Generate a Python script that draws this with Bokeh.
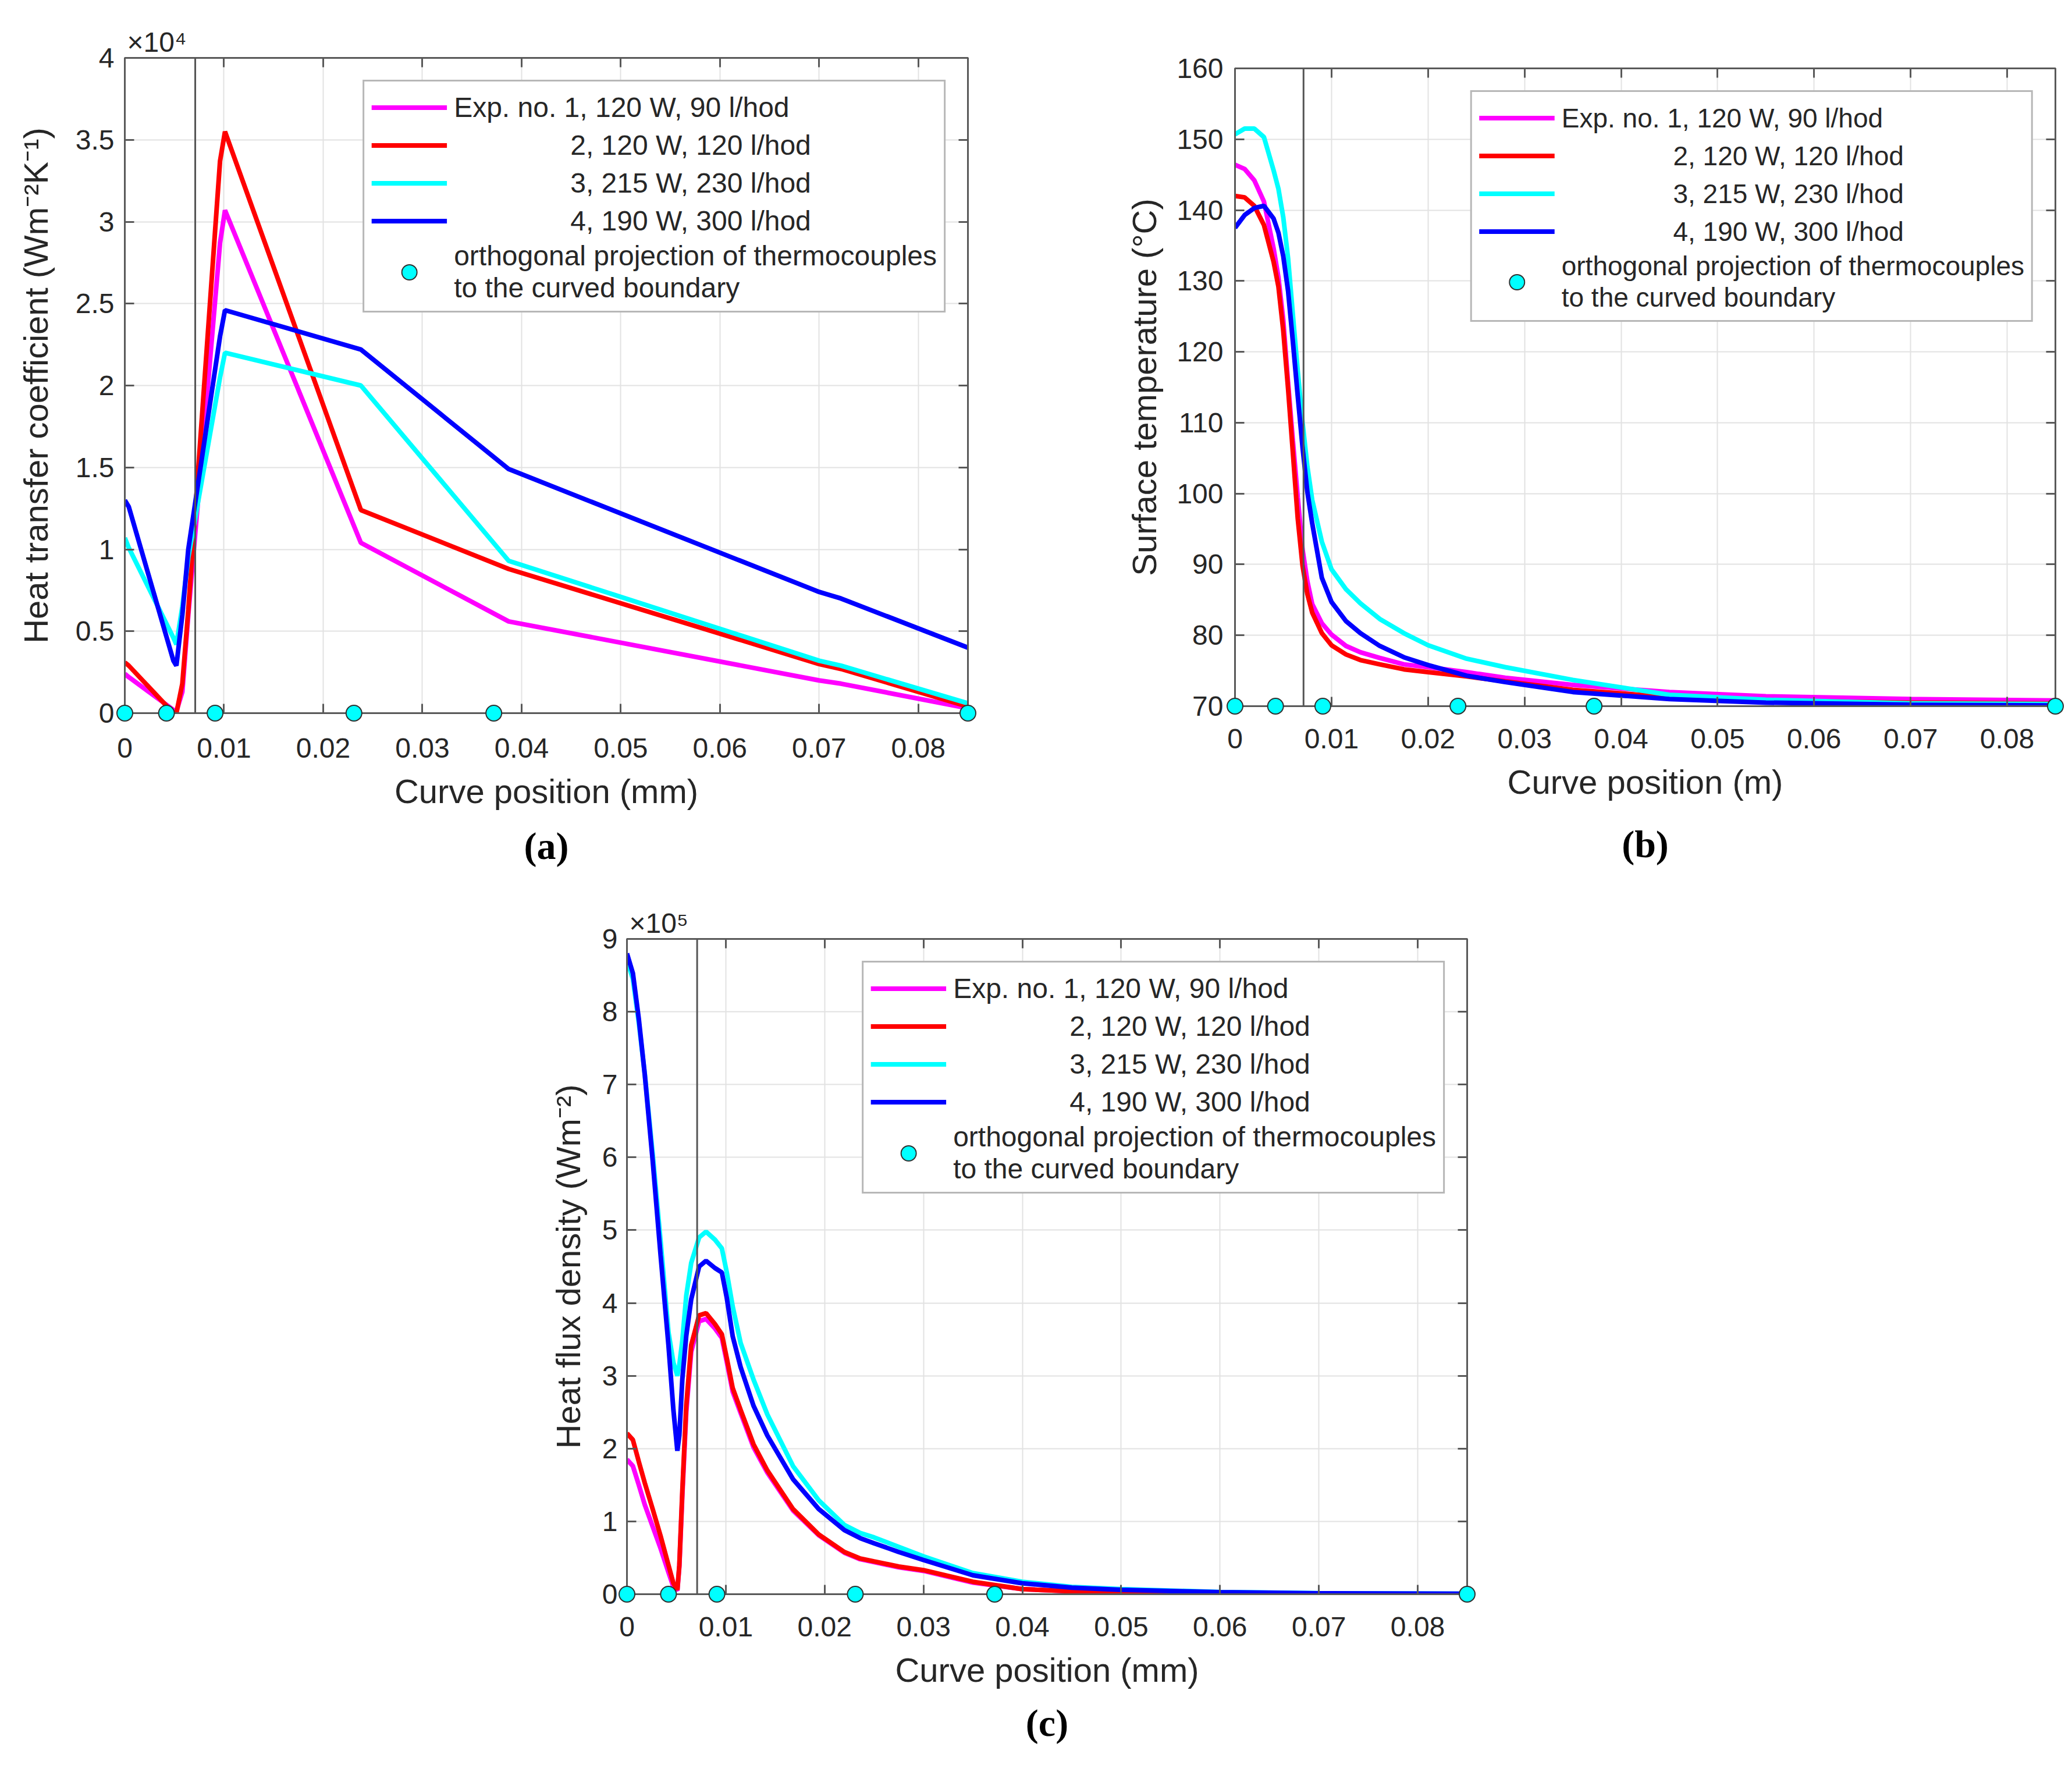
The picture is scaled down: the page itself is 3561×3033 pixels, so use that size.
from bokeh.plotting import figure
from bokeh.layouts import column, row
from bokeh.models import (Legend, LegendItem, Span, Title, LinearAxis, Range1d,
                          CustomJSTickFormatter, FixedTicker, Spacer)
from bokeh.embed import file_html
from bokeh.resources import INLINE

FONT = "Liberation Sans"
SERIF = "Liberation Serif"
TXT = "#262626"
AXC = "#595959"

# ---- data ----------------------------------------------------------------
nb = "\u00a0" * 15
series_labels = ["Exp. no. 1, 120 W, 90 l/hod",
                 nb + "2, 120 W, 120 l/hod",
                 nb + "3, 215 W, 230 l/hod",
                 nb + "4, 190 W, 300 l/hod"]
tc_label = "orthogonal projection of thermocouples\nto the curved boundary"
colors = ["#ff00ff", "#ff0000", "#00ffff", "#0000ff"]

# thermocouple projections and the boundary line (curve position)
tc_x = [0, 0.0042, 0.0091, 0.0231, 0.0372, 0.085]
boundary_x = 0.0071
x_ticks = [0, 0.01, 0.02, 0.03, 0.04, 0.05, 0.06, 0.07, 0.08]

# (a) heat transfer coefficient, W m^-2 K^-1
xa = [0, 0.0004, 0.0049, 0.0052, 0.0058, 0.0064, 0.0096, 0.0101, 0.0238, 0.0387, 0.0700, 0.0722, 0.0850]
htc_1 = [2400, 2200, 200, 100, 1300, 6000, 28700, 30700, 10400, 5600, 2000, 1800, 300]
htc_2 = [3100, 2900, 0, 0, 1800, 6300, 33700, 35500, 12400, 8800, 3000, 2700, 400]
htc_3 = [10700, 10100, 4600, 4200, 6500, 9500, 20500, 22000, 20000, 9300, 3200, 2900, 600]
htc_4 = [13000, 12600, 3200, 2900, 6000, 10000, 23000, 24600, 22200, 14900, 7400, 7000, 4000]
htc_ticks = [0, 5000, 10000, 15000, 20000, 25000, 30000, 35000, 40000]

# (b) surface temperature, deg C
xb = [0, 0.001, 0.002, 0.003, 0.004, 0.0045, 0.005, 0.0055, 0.006, 0.0065, 0.007, 0.0075, 0.008,
      0.009, 0.01, 0.0115, 0.013, 0.015, 0.0175, 0.02, 0.024, 0.028, 0.035, 0.045, 0.055, 0.07, 0.085]
temp_1 = [146.4, 145.8, 144.2, 141.2, 134.6, 130.5, 124.5, 115.6, 107.4, 99.5, 92.1, 87.6, 84.4,
          81.7, 80.1, 78.5, 77.6, 76.8, 75.9, 75.5, 74.8, 74.0, 73.0, 72.0, 71.4, 71.0, 70.8]
temp_2 = [142.0, 141.8, 140.6, 137.9, 132.7, 129.2, 123.0, 114.8, 105.7, 96.5, 89.8, 85.8, 83.2,
          80.3, 78.6, 77.3, 76.5, 75.9, 75.2, 74.8, 74.2, 73.5, 72.3, 71.3, 70.8, 70.5, 70.4]
temp_3 = [150.7, 151.5, 151.5, 150.3, 145.6, 143.0, 139.0, 133.2, 125.2, 117.3, 110.0, 103.8, 99.1,
          93.2, 89.3, 86.5, 84.5, 82.3, 80.3, 78.6, 76.7, 75.5, 73.7, 71.6, 70.9, 70.4, 70.3]
temp_4 = [137.5, 139.3, 140.3, 140.6, 138.8, 136.8, 133.5, 128.6, 121.4, 113.8, 106.5, 100.2, 95.8,
          88.1, 84.7, 82.0, 80.3, 78.5, 76.9, 75.8, 74.3, 73.4, 72.0, 71.0, 70.5, 70.2, 70.1]
temp_ticks = [70, 80, 90, 100, 110, 120, 130, 140, 150, 160]

# (c) heat flux density, W m^-2
xc = [0, 0.0006, 0.0012, 0.0018, 0.0026, 0.0034, 0.0042, 0.0047, 0.0051, 0.0053, 0.0056, 0.006,
      0.0065, 0.0073, 0.008, 0.0089, 0.0096, 0.0101, 0.0107, 0.0115, 0.0128, 0.0142, 0.0168, 0.0194,
      0.022, 0.0236, 0.025, 0.0275, 0.03, 0.035, 0.04, 0.045, 0.05, 0.06, 0.07, 0.085]
flux_1 = [1.85e5, 1.76e5, 1.50e5, 1.23e5, 0.93e5, 0.63e5, 0.30e5, 0.10e5, 0.05e5, 0.38e5, 1.35e5, 2.50e5,
          3.33e5, 3.75e5, 3.78e5, 3.65e5, 3.52e5, 3.19e5, 2.78e5, 2.49e5, 2.02e5, 1.67e5, 1.15e5, 0.81e5,
          0.57e5, 0.48e5, 0.44e5, 0.37e5, 0.32e5, 0.16e5, 0.07e5, 0.04e5, 0.02e5, 0.008e5, 0.004e5, 0.002e5]
flux_2 = [2.21e5, 2.12e5, 1.82e5, 1.53e5, 1.17e5, 0.80e5, 0.40e5, 0.15e5, 0.06e5, 0.40e5, 1.41e5, 2.59e5,
          3.42e5, 3.83e5, 3.86e5, 3.71e5, 3.57e5, 3.24e5, 2.83e5, 2.53e5, 2.06e5, 1.70e5, 1.17e5, 0.82e5,
          0.58e5, 0.49e5, 0.45e5, 0.38e5, 0.33e5, 0.17e5, 0.07e5, 0.04e5, 0.02e5, 0.008e5, 0.004e5, 0.002e5]
flux_3 = [8.71e5, 8.45e5, 7.85e5, 7.15e5, 6.05e5, 4.85e5, 3.60e5, 3.18e5, 3.00e5, 3.15e5, 3.48e5, 4.10e5,
          4.55e5, 4.90e5, 4.98e5, 4.87e5, 4.75e5, 4.42e5, 3.95e5, 3.45e5, 2.95e5, 2.47e5, 1.76e5, 1.29e5,
          0.95e5, 0.84e5, 0.78e5, 0.65e5, 0.52e5, 0.29e5, 0.17e5, 0.10e5, 0.07e5, 0.03e5, 0.013e5, 0.005e5]
flux_4 = [8.80e5, 8.53e5, 7.90e5, 7.14e5, 5.96e5, 4.66e5, 3.42e5, 2.53e5, 1.97e5, 2.18e5, 2.95e5, 3.55e5,
          4.05e5, 4.50e5, 4.58e5, 4.48e5, 4.42e5, 4.07e5, 3.54e5, 3.12e5, 2.59e5, 2.18e5, 1.58e5, 1.17e5,
          0.88e5, 0.77e5, 0.70e5, 0.58e5, 0.47e5, 0.26e5, 0.15e5, 0.09e5, 0.06e5, 0.027e5, 0.012e5, 0.005e5]
flux_ticks = [0, 1e5, 2e5, 3e5, 4e5, 5e5, 6e5, 7e5, 8e5, 9e5]


def style_axis(ax, size="48px"):
    ax.axis_line_color = AXC
    ax.axis_line_width = 3
    ax.major_tick_line_color = AXC
    ax.major_tick_line_width = 3
    ax.major_tick_in = 16
    ax.major_tick_out = 0
    ax.minor_tick_line_color = None
    ax.major_label_text_font = FONT
    ax.major_label_text_font_size = size
    ax.major_label_text_color = TXT
    ax.axis_label_text_font = FONT
    ax.axis_label_text_font_size = "58px"
    ax.axis_label_text_font_style = "normal"
    ax.axis_label_text_color = TXT


def panel(xs, ys, ylo, yhi, yticks, ylab, xlab, ylab_fmt, exp_text, tag, tag_off, tag_std,
          fw, fh, bl, br, bt, bb, std_x, std_y, lstd_y, leg_size):
    p = figure(frame_width=fw, frame_height=fh, output_backend="svg", toolbar_location=None,
               x_range=Range1d(0, 0.085), y_range=Range1d(ylo, yhi),
               min_border_left=bl, min_border_right=br, min_border_top=bt, min_border_bottom=bb,
               title=exp_text)
    p.background_fill_color = "white"
    p.border_fill_color = "white"
    p.outline_line_color = AXC
    p.outline_line_width = 3
    p.title.text_font = FONT
    p.title.text_font_size = "48px"
    p.title.text_font_style = "normal"
    p.title.text_color = TXT
    p.title.align = "left"
    p.title.offset = 4
    p.title.standoff = 2

    p.xaxis.ticker = FixedTicker(ticks=x_ticks)
    p.xaxis.formatter = CustomJSTickFormatter(code="return tick === 0 ? '0' : tick.toFixed(2);")
    p.yaxis.ticker = FixedTicker(ticks=yticks)
    if ylab_fmt:
        p.yaxis.formatter = CustomJSTickFormatter(code=ylab_fmt)
    p.xaxis.axis_label = xlab
    p.yaxis.axis_label = ylab
    style_axis(p.xaxis[0])
    style_axis(p.yaxis[0])
    p.xaxis.major_label_standoff = std_x
    p.xaxis.axis_label_standoff = 22
    p.yaxis.major_label_standoff = std_y
    p.yaxis.axis_label_standoff = lstd_y

    # inward ticks on the top and right edges of the box
    top = LinearAxis(ticker=FixedTicker(ticks=x_ticks),
                     formatter=CustomJSTickFormatter(code="return '';"))
    right = LinearAxis(ticker=FixedTicker(ticks=yticks),
                       formatter=CustomJSTickFormatter(code="return '';"))
    for ax in (top, right):
        style_axis(ax, size="0px")
        ax.major_label_standoff = 0
    p.add_layout(top, "above")
    p.add_layout(right, "right")

    p.grid.grid_line_color = "#e2e2e2"
    p.grid.grid_line_width = 2
    p.xgrid.ticker = FixedTicker(ticks=x_ticks)
    p.ygrid.ticker = FixedTicker(ticks=yticks)

    p.add_layout(Span(location=boundary_x, dimension="height",
                      line_color="#555555", line_width=3))

    items = []
    for x, y, c, lab in zip(xs, ys, colors, series_labels):
        r = p.line(x, y, line_color=c, line_width=8)
        items.append(LegendItem(label=lab, renderers=[r]))
    m = p.scatter(tc_x, [ylo] * len(tc_x), marker="circle", size=27,
                  fill_color="#00ffff", line_color="#303030", line_width=2,
                  level="overlay")
    items.append(LegendItem(label=tc_label, renderers=[m]))

    leg = Legend(items=items, location="top_right", margin=38, padding=12,
                 spacing=0, glyph_width=130, glyph_height=65, label_height=65,
                 label_standoff=12, label_text_font=FONT, label_text_font_size=leg_size,
                 label_text_line_height=1.35,
                 label_text_color=TXT, border_line_color="#707070", border_line_width=3,
                 background_fill_color="white", background_fill_alpha=1.0)
    p.add_layout(leg)

    p.add_layout(Title(text=tag, align="center", offset=tag_off, standoff=tag_std,
                       text_font=SERIF, text_font_size="66px", text_font_style="bold",
                       text_color="black"), "below")
    return p


pa = panel([xa] * 4, [htc_1, htc_2, htc_3, htc_4], 0, 40000, htc_ticks,
           "Heat transfer coefficient (Wm\u207b\u00b2K\u207b\u00b9)", "Curve position (mm)",
           "return (tick / 1e4).toString();", "\u00d710\u2074", "(a)", -40, 40,
           1449, 1126, 214, 37, 99, 305, 43, 18, 33, "48px")

pb = panel([xb] * 4, [temp_1, temp_2, temp_3, temp_4], 70, 160, temp_ticks,
           "Surface temperature (\u00b0C)", "Curve position (m)",
           None, "", "(b)", -84, 66,
           1410, 1096, 422, 20, 99, 299, 39, 20, 20, "46px")

pc = panel([xc] * 4, [flux_1, flux_2, flux_3, flux_4], 0, 9e5, flux_ticks,
           "Heat flux density (Wm\u207b\u00b2)", "Curve position (mm)",
           "return (tick / 1e5).toString();", "\u00d710\u2075", "(c)", -31, 34,
           1444, 1126, 177, 40, 83, 290, 39, 16, 23, "48px")

layout = column(row(pa, column(Spacer(width=10, height=18), pb)),
                row(Spacer(width=900, height=10), pc))

open("out.html", "w").write(file_html(layout, INLINE))
